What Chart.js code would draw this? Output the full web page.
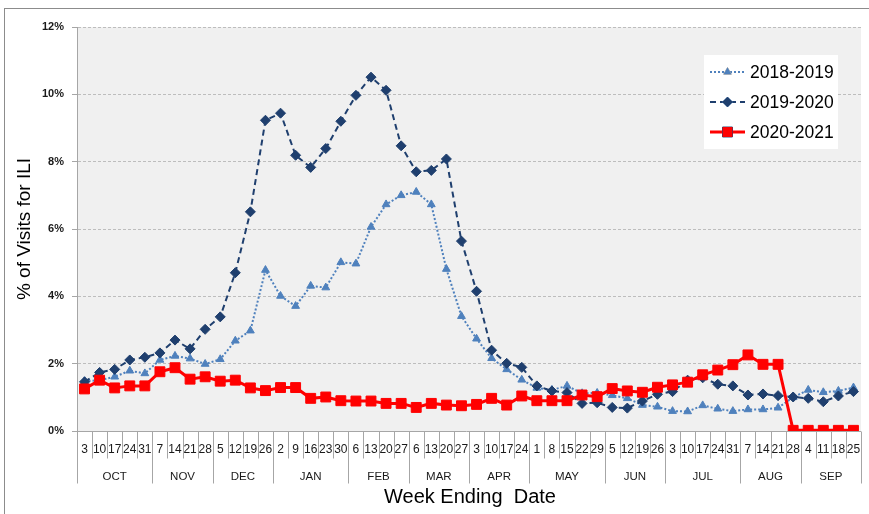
<!DOCTYPE html>
<html>
<head>
<meta charset="utf-8">
<title>% of Visits for ILI</title>
<script src="https://cdn.jsdelivr.net/npm/chart.js@4"></script>
<style>
  html, body { margin: 0; padding: 0; background: #fff; }
  #wrap { position: relative; width: 869px; height: 514px; }
</style>
</head>
<body>
<div id="wrap"><canvas id="iliChart"></canvas></div>
<script>
// week ending day, October -> September
const weekDays = [3,10,17,24,31, 7,14,21,28, 5,12,19,26, 2,9,16,23,30, 6,13,20,27, 6,13,20,27,
  3,10,17,24, 1,8,15,22,29, 5,12,19,26, 3,10,17,24,31, 7,14,21,28, 4,11,18,25];
const monthNames = ['OCT','NOV','DEC','JAN','FEB','MAR','APR','MAY','JUN','JUL','AUG','SEP'];
const monthWeeks = [5,4,4,5,4,4,4,5,4,5,4,4];
const yTicks = [0,2,4,6,8,10,12];

const season1819 = [1.48,1.51,1.61,1.79,1.71,2.11,2.23,2.15,1.99,2.13,2.68,2.98,4.78,4.01,3.71,4.31,4.26,
  5.01,4.97,6.06,6.73,7.00,7.10,6.73,4.81,3.41,2.74,2.16,1.83,1.52,1.28,1.22,1.34,1.12,1.13,1.06,0.97,
  0.77,0.72,0.59,0.58,0.76,0.66,0.59,0.64,0.64,0.69,1.00,1.22,1.15,1.19,1.29];
const season1920 = [1.46,1.74,1.83,2.11,2.19,2.32,2.70,2.44,3.02,3.39,4.70,6.51,9.23,9.44,8.19,7.83,8.39,
  9.20,9.97,10.51,10.12,8.47,7.70,7.74,8.08,5.64,4.15,2.40,2.01,1.89,1.34,1.19,1.14,0.82,0.84,0.70,0.68,
  0.89,1.09,1.17,1.51,1.58,1.39,1.34,1.07,1.10,1.05,1.01,0.97,0.87,1.04,1.17];
const season2021 = [1.25,1.51,1.28,1.34,1.34,1.76,1.88,1.54,1.61,1.48,1.51,1.28,1.20,1.29,1.29,0.97,1.01,
  0.90,0.89,0.89,0.82,0.82,0.70,0.82,0.77,0.75,0.79,0.97,0.77,1.04,0.90,0.90,0.90,1.07,1.02,1.26,1.19,
  1.15,1.30,1.37,1.45,1.67,1.81,1.97,2.26,1.98,1.98,0.02,0.02,0.02,0.02,0.02];

const labels = weekDays.map((d, i) => i + ':' + d);
const FONT = 'Arial, "Liberation Sans", sans-serif';

// frame, plot background, category axis, titles and legend
const excelLook = {
  id: 'excelLook',
  beforeDraw(chart){
    const { ctx, chartArea: a } = chart;
    ctx.save();
    ctx.fillStyle = '#fff';
    ctx.fillRect(0, 0, chart.width, chart.height);
    ctx.strokeStyle = '#8c8c8c';
    ctx.lineWidth = 1;
    ctx.strokeRect(4.5, 8.5, chart.width + 20, chart.height + 20);
    ctx.fillStyle = '#f0f0f0';
    ctx.fillRect(a.left, a.top, a.right - a.left, a.bottom - a.top);
    ctx.restore();
  },
  beforeDatasetsDraw(chart){
    const { ctx, chartArea: a } = chart;
    ctx.save();
    ctx.strokeStyle = '#a6a6a6';
    ctx.lineWidth = 1;
    ctx.beginPath();
    ctx.moveTo(a.left - 5, Math.round(a.bottom) + 0.5);
    ctx.lineTo(a.right, Math.round(a.bottom) + 0.5);
    ctx.stroke();
    ctx.restore();
  },
  afterDraw(chart){
    const { ctx, chartArea: a } = chart;
    const xs = chart.scales.x;
    const w = xs.getPixelForValue(1) - xs.getPixelForValue(0);
    const base = Math.round(a.bottom) + 0.5;
    ctx.save();

    // month boundaries
    const starts = [0];
    monthWeeks.forEach(n => starts.push(starts[starts.length - 1] + n));

    ctx.strokeStyle = '#a6a6a6';
    ctx.lineWidth = 1;
    for (let i = 0; i <= weekDays.length; i++){
      const x = Math.round(xs.getPixelForValue(i) - w / 2) + 0.5;
      const long = starts.includes(i);
      ctx.beginPath();
      ctx.moveTo(x, base);
      ctx.lineTo(x, long ? base + 52 : base + 27);
      ctx.stroke();
    }

    ctx.fillStyle = '#1a1a1a';
    ctx.textAlign = 'center';
    ctx.textBaseline = 'middle';
    ctx.font = '12px ' + FONT;
    weekDays.forEach((d, i) => ctx.fillText(String(d), xs.getPixelForValue(i), base + 18));

    ctx.font = '11.5px ' + FONT;
    monthNames.forEach((m, k) => {
      const x0 = xs.getPixelForValue(starts[k]) - w / 2;
      const x1 = xs.getPixelForValue(starts[k + 1]) - w / 2;
      ctx.fillText(m, (x0 + x1) / 2, base + 45);
    });

    // axis titles
    ctx.font = '20px ' + FONT;
    ctx.fillStyle = '#000';
    ctx.fillText('Week Ending  Date', 470, 497);
    ctx.save();
    ctx.translate(25, 229);
    ctx.rotate(-Math.PI / 2);
    ctx.font = '19px ' + FONT;
    ctx.fillText('% of Visits for ILI', 0, 0);
    ctx.restore();

    // legend box
    ctx.fillStyle = '#fff';
    ctx.fillRect(704, 55, 134, 94);
    const rows = [72, 102, 132];
    chart.data.datasets.forEach((ds, i) => {
      const y = rows[i];
      ctx.save();
      ctx.strokeStyle = ds.borderColor;
      ctx.lineWidth = ds.borderWidth;
      ctx.setLineDash(ds.borderDash || []);
      ctx.beginPath();
      ctx.moveTo(710, y);
      ctx.lineTo(745, y);
      ctx.stroke();
      ctx.restore();
      Chart.helpers.drawPoint(ctx, {
        pointStyle: ds.pointStyle, radius: ds.pointRadius,
        borderWidth: 1, rotation: 0
      }, 727.5, y);
      ctx.fillStyle = ds.pointBackgroundColor;
      ctx.strokeStyle = ds.pointBorderColor;
      ctx.fill();
      ctx.fillStyle = '#000';
      ctx.textAlign = 'left';
      ctx.font = '17.5px ' + FONT;
      ctx.fillText(ds.label, 750, y + 1);
    });
    ctx.restore();
  }
};

new Chart(document.getElementById('iliChart'), {
  type: 'line',
  data: {
    labels,
    datasets: [
      { label: '2018-2019', data: season1819, order: 3,
        borderColor: '#4f81bd', borderWidth: 2, borderDash: [2, 2],
        pointStyle: 'triangle', pointRadius: 4.5,
        pointBackgroundColor: '#4f81bd', pointBorderColor: '#4f81bd', pointBorderWidth: 1 },
      { label: '2019-2020', data: season1920, order: 2,
        borderColor: '#1f3f6e', borderWidth: 2, borderDash: [6, 4],
        pointStyle: 'rectRot', pointRadius: 5,
        pointBackgroundColor: '#1f3f6e', pointBorderColor: '#1f3f6e', pointBorderWidth: 1 },
      { label: '2020-2021', data: season2021, order: 1,
        borderColor: '#ff0000', borderWidth: 3,
        pointStyle: 'rect', pointRadius: 7,
        pointBackgroundColor: '#ff0000', pointBorderColor: '#ff0000', pointBorderWidth: 1 }
    ]
  },
  options: {
    responsive: true,
    maintainAspectRatio: false,
    animation: false,
    layout: { padding: { left: 0, top: 27, right: 6, bottom: 83 } },
    plugins: { legend: { display: false }, tooltip: { enabled: false } },
    elements: { line: { tension: 0 } },
    scales: {
      x: { type: 'category', display: false, offset: true },
      y: {
        min: 0, max: 12,
        afterFit(scale){ scale.width = 77; },
        afterBuildTicks(scale){ scale.ticks = yTicks.map(v => ({ value: v })); },
        ticks: {
          padding: 8,
          color: '#1a1a1a',
          font: { family: FONT, size: 11, weight: 'bold' },
          callback: v => v + '%'
        },
        grid: {
          color: ctx => ctx.tick && ctx.tick.value === 0 ? 'rgba(0,0,0,0)' : '#bdbdbd',
          tickLength: 5,
          tickColor: '#a6a6a6',
          tickBorderDash: [1, 0]
        },
        border: { display: true, color: '#a6a6a6', dash: [3, 2] }
      }
    }
  },
  plugins: [excelLook]
});
</script>
</body>
</html>
